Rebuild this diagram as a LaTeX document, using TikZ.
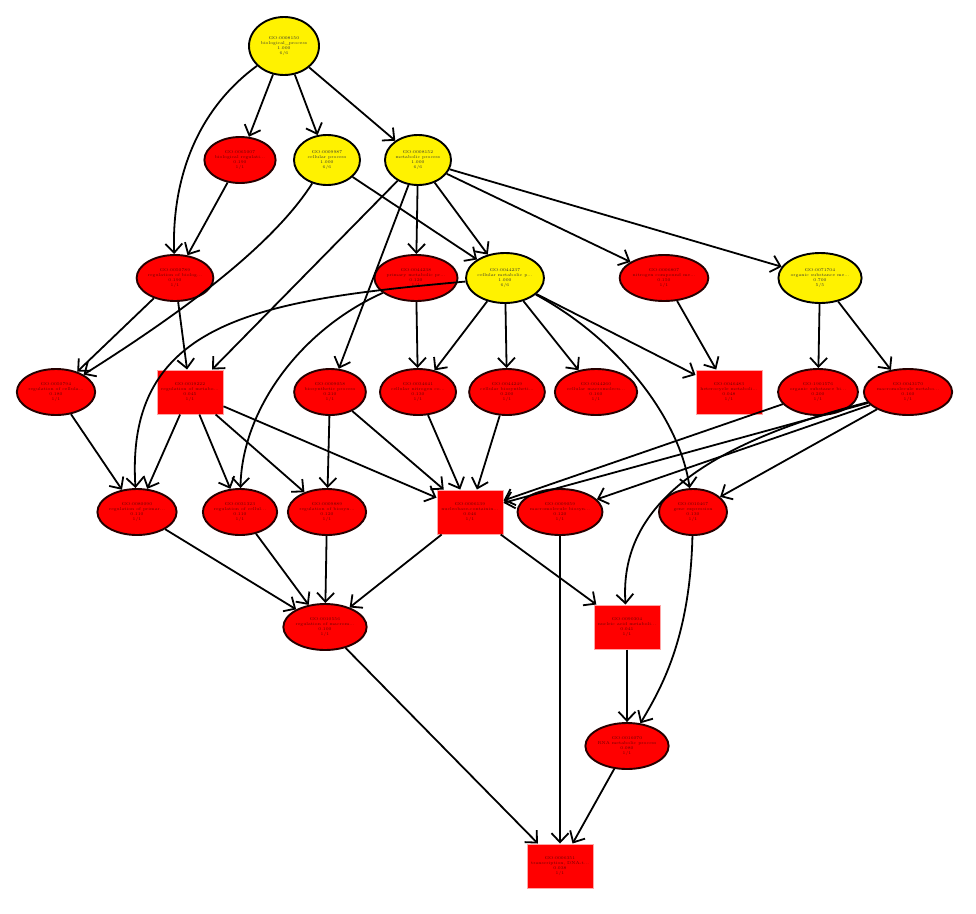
\documentclass[tikz,border=0pt]{standalone}
\usetikzlibrary{shapes.geometric,arrows.meta}
\tikzset{
  goterm/.style={align=center, inner sep=0pt, font=\fontsize{4.2}{5}\selectfont},
  nsell/.style={goterm, ellipse, draw=black, line width=1.9pt, fill=yellow,
    minimum width=66pt, minimum height=50pt, text=black!80},
  sigell/.style={goterm, ellipse, draw=black!85!red, line width=1.9pt, fill=red,
    minimum width=68pt, minimum height=46pt, text=red!40!black},
  sigbox/.style={goterm, rectangle, draw=red!35!white, line width=1pt, fill=red,
    minimum width=66pt, minimum height=44pt, text=red!40!black},
  edge/.style={->, line width=1.8pt}
}
\begin{document}
\begin{tikzpicture}[x=1pt, y=-1pt, >={Straight Barb[length=9pt,width=17pt]}]
    \useasboundingbox (0,0) rectangle (976,913);

    % level 1
    \node[nsell, minimum height=58pt, minimum width=70pt] (bp) at (284,46) {GO:0008150\\biological\_process\\1.000\\6/6};

    % level 2
    \node[sigell] (breg) at (240,160) {GO:0065007\\biological regulati...\\0.190\\1/1};
    \node[nsell] (cellp) at (327,160) {GO:0009987\\cellular process\\1.000\\6/6};
    \node[nsell] (metp) at (418,160) {GO:0008152\\metabolic process\\1.000\\6/6};

    % level 3
    \node[sigell] (regbp) at (175,278) {GO:0050789\\regulation of biolog...\\0.190\\1/1};
    \node[sigell] (primp) at (416,278) {GO:0044238\\primary metabolic pr...\\0.120\\1/1};
    \node[nsell] (cellmet) at (505,278) {GO:0044237\\cellular metabolic p...\\1.000\\6/6};
    \node[sigell] (nitro) at (664,278) {GO:0006807\\nitrogen compound me...\\0.150\\1/1};
    \node[nsell] (orgmet) at (820,278) {GO:0071704\\organic substance me...\\0.700\\5/5};

    % level 4
    \node[sigell] (regcp) at (56,392) {GO:0050794\\regulation of cellula...\\0.180\\1/1};
    \node[sigbox] (regmet) at (190,392) {GO:0019222\\regulation of metabo...\\0.045\\1/1};
    \node[sigell] (biosyn) at (330,392) {GO:0009058\\biosynthetic process\\0.210\\1/1};
    \node[sigell] (cnitro) at (418,392) {GO:0034641\\cellular nitrogen co...\\0.130\\1/1};
    \node[sigell] (cbios) at (507,392) {GO:0044249\\cellular biosyntheti...\\0.200\\1/1};
    \node[sigell] (cmacro) at (596,392) {GO:0044260\\cellular macromolecu...\\0.160\\1/1};
    \node[sigbox] (hetero) at (729,392) {GO:0046483\\heterocycle metaboli...\\0.048\\1/1};
    \node[sigell] (orgbios) at (818,392) {GO:1901576\\organic substance bi...\\0.200\\1/1};
    \node[sigell] (macro) at (908,392) {GO:0043170\\macromolecule metabo...\\0.160\\1/1};

    % level 5
    \node[sigell] (regpm) at (137,512) {GO:0080090\\regulation of primar...\\0.110\\1/1};
    \node[sigell] (regcm) at (240,512) {GO:0031323\\regulation of cellul...\\0.110\\1/1};
    \node[sigell] (regbs) at (327,512) {GO:0009889\\regulation of biosyn...\\0.120\\1/1};
    \node[sigbox] (nucleo) at (470,512) {GO:0006139\\nucleobase-containin...\\0.046\\1/1};
    \node[sigell] (macbs) at (560,512) {GO:0009059\\macromolecule biosyn...\\0.120\\1/1};
    \node[sigell] (gexp) at (693,512) {GO:0010467\\gene expression\\0.130\\1/1};

    % level 6
    \node[sigell] (regmb) at (325,627) {GO:0010556\\regulation of macrom...\\0.100\\1/1};
    \node[sigbox] (nucmet) at (627,627) {GO:0090304\\nucleic acid metaboli...\\0.041\\1/1};

    % level 7 and 8
    \node[sigell, minimum width=70pt] (rnamet) at (627,746) {GO:0016070\\RNA metabolic process\\0.080\\1/1};
    \node[sigbox] (trans) at (560,866) {GO:0006351\\transcription, DNA-t...\\0.038\\1/1};

    % edges from the top
    \draw[edge] (bp) .. controls (190,115) and (172,190) .. (regbp);
    \draw[edge] (bp) -- (breg);
    \draw[edge] (bp) -- (cellp);
    \draw[edge] (bp) -- (metp);
    \draw[edge] (breg) -- (regbp);
    \draw[edge] (cellp) .. controls (270,250) and (170,320) .. (regcp);
    \draw[edge] (cellp) -- (cellmet);
    \draw[edge] (metp) -- (cellmet);
    \draw[edge] (metp) -- (primp);
    \draw[edge] (metp) -- (regmet);
    \draw[edge] (metp) -- (biosyn);
    \draw[edge] (metp) -- (nitro);
    \draw[edge] (metp) -- (orgmet);

    % level 3 to 4
    \draw[edge] (regbp) -- (regcp);
    \draw[edge] (regbp) -- (regmet);
    \draw[edge] (primp) -- (cnitro);
    \draw[edge] (primp) .. controls (300,330) and (242,410) .. (regcm);
    \draw[edge] (cellmet) .. controls (260,300) and (125,320) .. (regpm);
    \draw[edge] (cellmet) -- (cnitro);
    \draw[edge] (cellmet) -- (cbios);
    \draw[edge] (cellmet) -- (cmacro);
    \draw[edge] (cellmet) -- (hetero);
    \draw[edge] (cellmet) .. controls (620,340) and (680,420) .. (gexp);
    \draw[edge] (nitro) -- (hetero);
    \draw[edge] (orgmet) -- (orgbios);
    \draw[edge] (orgmet) -- (macro);

    % level 4 to 5
    \draw[edge] (regcp) -- (regpm);
    \draw[edge] (regmet) -- (regpm);
    \draw[edge] (regmet) -- (regcm);
    \draw[edge] (regmet) -- (regbs);
    \draw[edge] (regmet) -- (nucleo);
    \draw[edge] (biosyn) -- (regbs);
    \draw[edge] (biosyn) -- (nucleo);
    \draw[edge] (cnitro) -- (nucleo);
    \draw[edge] (cbios) -- (nucleo);
    \draw[edge] (orgbios) -- (nucleo);
    \draw[edge] (macro) -- (nucleo);
    \draw[edge] (macro) -- (macbs);
    \draw[edge] (macro) -- (gexp);
    \draw[edge] (macro) .. controls (680,450) and (620,520) .. (nucmet);

    % lower levels
    \draw[edge] (regpm) -- (regmb);
    \draw[edge] (regcm) -- (regmb);
    \draw[edge] (regbs) -- (regmb);
    \draw[edge] (nucleo) -- (regmb);
    \draw[edge] (nucleo) -- (nucmet);
    \draw[edge] (macbs) -- (trans);
    \draw[edge] (gexp) .. controls (690,640) and (660,690) .. (rnamet);
    \draw[edge] (nucmet) -- (rnamet);
    \draw[edge] (regmb) -- (trans);
    \draw[edge] (rnamet) -- (trans);
\end{tikzpicture}
\end{document}
